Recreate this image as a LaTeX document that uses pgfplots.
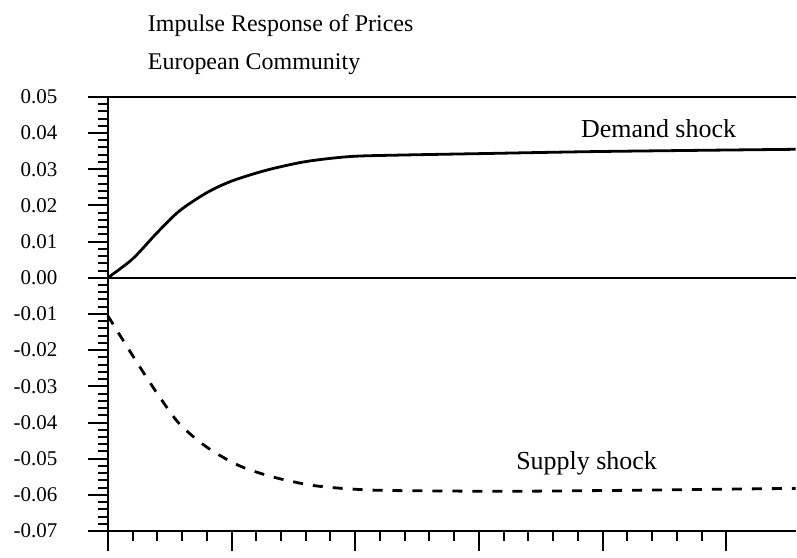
\documentclass[border=0pt]{standalone}
\usepackage{pgfplots}
\pgfplotsset{compat=1.18}
\usepackage{fontspec}
\setmainfont{Liberation Serif}

\begin{document}
\begin{tikzpicture}
\begin{axis}[
  scale only axis,
  width=689pt, height=435pt,
  xmin=0, xmax=27.8,
  ymin=-0.07, ymax=0.05,
  axis lines=left,
  axis line style={-, line width=2.4pt},
  xtick={0,5,10,15,20,25},
  minor x tick num=4,
  xticklabels={},
  scaled y ticks=false,
  ytick={-0.07,-0.06,-0.05,-0.04,-0.03,-0.02,-0.01,0,0.01,0.02,0.03,0.04,0.05},
  yticklabels={-0.07,-0.06,-0.05,-0.04,-0.03,-0.02,-0.01,0.00,0.01,0.02,0.03,0.04,0.05},
  minor y tick num=4,
  tick align=outside,
  major tick length=20pt,
  minor tick length=10pt,
  every tick/.style={black, line width=2pt},
  yticklabel style={font=\fontsize{21}{21}\selectfont, anchor=east, xshift=-27pt},
  clip=false,
]
% reference lines
\addplot[black, line width=2.2pt] coordinates {(0,0.05)(27.8,0.05)};
\addplot[black, line width=2pt] coordinates {(0,0)(27.8,0)};

% demand shock
\addplot[black, line width=2.8pt, smooth] coordinates {
  (0,0)(1,0.0052)(2,0.0125)(2.9,0.0185)(4,0.0235)(5,0.0267)(6.4,0.0297)
  (8,0.0321)(9.8,0.0335)(11.8,0.0339)(15,0.0343)(20,0.0349)(27.8,0.0355)};

% supply shock
\addplot[black, line width=2.8pt, smooth, dash pattern=on 10pt off 10pt] coordinates {
  (0,-0.0105)(0.5,-0.016)(1.3,-0.0247)(2.1,-0.033)(2.9,-0.0404)(4,-0.0468)
  (5.3,-0.0519)(6.7,-0.0551)(8.3,-0.0574)(9.9,-0.0584)(11.5,-0.0588)
  (16,-0.059)(20,-0.0588)(24,-0.0585)(27.8,-0.0582)};

\node[font=\fontsize{26}{26}\selectfont] at (axis cs:22.26,0.0411) {Demand shock};
\node[font=\fontsize{26}{26}\selectfont] at (axis cs:19.35,-0.0513) {Supply shock};

\node[anchor=south west, align=left, font=\fontsize{24}{38}\selectfont,
      inner sep=0pt] at ([xshift=40pt, yshift=22pt]rel axis cs:0,1)
  {Impulse Response of Prices\\European Community};

% page frame matching the reference margins
\path ([xshift=-108pt, yshift=-18pt]rel axis cs:0,0) rectangle ([yshift=97pt]rel axis cs:1,1);
\end{axis}
\end{tikzpicture}
\end{document}
